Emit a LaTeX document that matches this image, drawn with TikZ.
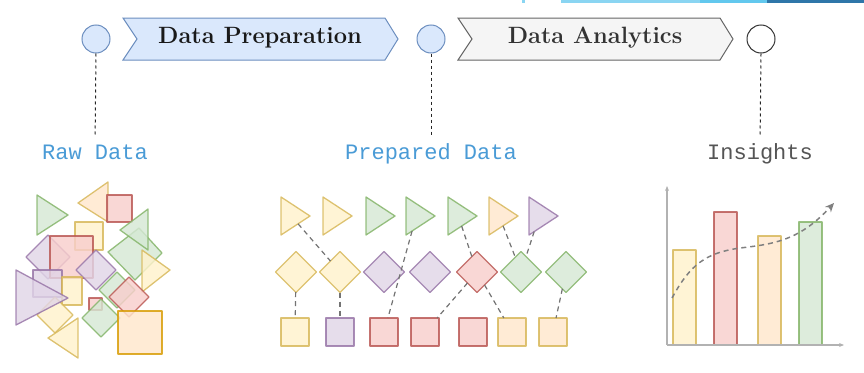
\documentclass[tikz,border=0pt]{standalone}
\usepackage{fontspec}
\newfontfamily\monofont{Liberation Mono}
\usetikzlibrary{shapes.geometric,arrows.meta}
\definecolor{yfill}{HTML}{FFF2CC}\definecolor{ydraw}{HTML}{D6B656}
\definecolor{rfill}{HTML}{F8CECC}\definecolor{rdraw}{HTML}{B85450}
\definecolor{gfill}{HTML}{D5E8D4}\definecolor{gdraw}{HTML}{82B366}
\definecolor{pfill}{HTML}{E1D5E7}\definecolor{pdraw}{HTML}{9673A6}
\definecolor{ofill}{HTML}{FFE6CC}\definecolor{odraw}{HTML}{D79B00}
\definecolor{bfill}{HTML}{DAE8FC}\definecolor{bdraw}{HTML}{6C8EBF}
\definecolor{sfill}{HTML}{F5F5F5}\definecolor{sdraw}{HTML}{666666}
\definecolor{lblue}{HTML}{4A9BD6}\definecolor{lgrey}{HTML}{555555}
\definecolor{bar1}{HTML}{8AD5F2}\definecolor{bar2}{HTML}{62C8EE}\definecolor{bar3}{HTML}{2E76A9}
\begin{document}
\begin{tikzpicture}[x=1pt,y=-1pt,
  ye/.style={fill=yfill,draw=ydraw},
  re/.style={fill=rfill,draw=rdraw},
  gr/.style={fill=gfill,draw=gdraw},
  pu/.style={fill=pfill,draw=pdraw},
  ora/.style={fill=ofill,draw=odraw},
  oy/.style={fill=ofill,draw=ydraw},
  shp/.style={line width=1.3pt,opacity=0.82,line join=round},
  stage/.style={circle,minimum size=28pt,inner sep=0pt,line width=1pt},
  chev/.style={line width=1pt},
  title/.style={font=\fontsize{23.6}{28}\selectfont\bfseries,inner sep=0pt},
  lbl/.style={font=\monofont\fontsize{22}{26}\selectfont,inner sep=0pt,text height=14pt,text depth=4pt},
  vdash/.style={draw=black!85,line width=1pt,dash pattern=on 3pt off 3pt},
  tri/.style={shp,isosceles triangle,isosceles triangle stretches,minimum width=38pt,minimum height=29pt,inner sep=0pt,outer sep=0pt,anchor=apex},
  dia/.style={shp,diamond,minimum width=41pt,minimum height=41pt,inner sep=0pt,outer sep=0pt},
  sq/.style={shp,rectangle,minimum size=28pt,inner sep=0pt,outer sep=0pt},
  link/.style={draw=black!55,line width=1.2pt,dash pattern=on 5pt off 4pt},
  axis/.style={draw=black!30,line width=1.2pt,-{Stealth[length=5pt,width=4pt]}},
  bar/.style={shp}
]
\useasboundingbox (0,0) rectangle (864,372);
% top bar fragment
\fill[bar1] (522,0) rectangle (525,3);
\fill[bar1] (561,0) rectangle (700,3);
\fill[bar2] (700,0) rectangle (767,3);
\fill[bar3] (767,0) rectangle (864,3);

% chevrons
\draw[chev,fill=bfill,draw=bdraw] (123,18) -- (385,18) -- (398,39) -- (385,60) -- (123,60) -- (137,39) -- cycle;
\draw[chev,fill=sfill,draw=sdraw] (458,18) -- (720,18) -- (733,39) -- (720,60) -- (458,60) -- (472,39) -- cycle;
\node[title,text=black!90] (t1) at (260,38) {Data Preparation};
\node[title,text=black!80] (t2) at (595,38) {Data Analytics};

% stage circles
\node[stage,fill=bfill,draw=bdraw] (c1) at (96,39) {};
\node[stage,fill=bfill,draw=bdraw] (c2) at (431,39) {};
\node[stage,fill=white,draw=black!80] (c3) at (761,39) {};

% labels
\node[lbl,text=lblue] (l1) at (95,154) {Raw Data};
\node[lbl,text=lblue] (l2) at (431,154) {Prepared Data};
\node[lbl,text=lgrey] (l3) at (760,154) {Insights};
\draw[vdash,shorten >=8pt] (c1.south) -- (l1.north);
\draw[vdash,shorten >=8pt] (c2.south) -- (l2.north);
\draw[vdash,shorten >=8pt] (c3.south) -- (l3.north);

% raw data cluster
\path[shp,gr] (37,195) -- (37,235) -- (68,215) -- cycle;
\path[shp,oy] (108,182) -- (108,222) -- (78,203) -- cycle;
\path[shp,re] (107,195) rectangle (132,222);
\path[shp,ye] (75,222) rectangle (103,250);
\path[shp,gr] (139,228) -- (162,253) -- (135,280) -- (108,252) -- cycle;
\path[shp,gr] (148,209) -- (148,250) -- (120,230) -- cycle;
\path[shp,pu] (48,235) -- (70,257) -- (48,279) -- (26,257) -- cycle;
\path[shp,re] (50,236) rectangle (93,278);
\path[shp,ye] (142,250) -- (142,292) -- (170,270) -- cycle;
\path[shp,pu] (96,250) -- (116,270) -- (96,290) -- (76,270) -- cycle;
\path[shp,pu] (33,270) rectangle (62,297);
\path[shp,ye] (62,277) rectangle (82,305);
\path[shp,ye] (55,297) -- (73,315) -- (55,333) -- (37,315) -- cycle;
\path[shp,pu] (16,270) -- (16,325) -- (68,298) -- cycle;
\path[shp,gr] (117,272) -- (135,290) -- (117,308) -- (99,290) -- cycle;
\path[shp,re] (129,277) -- (149,297) -- (129,317) -- (109,297) -- cycle;
\path[shp,re] (89,298) rectangle (102,310);
\path[shp,gr] (101,299) -- (120,318) -- (101,337) -- (82,318) -- cycle;
\path[shp,ye] (78,318) -- (78,358) -- (48,338) -- cycle;
\path[shp,ora] (118,311) rectangle (162,354);

% prepared data
\node[tri,ye] (pt1) at (310,216) {};
\node[tri,ye] (pt2) at (352,216) {};
\node[tri,gr] (pt3) at (395,216) {};
\node[tri,gr] (pt4) at (435,216) {};
\node[tri,gr] (pt5) at (477,216) {};
\node[tri,oy] (pt6) at (518,216) {};
\node[tri,pu] (pt7) at (558,216) {};
\node[dia,ye] (pd1) at (296,272) {};
\node[dia,ye] (pd2) at (340,272) {};
\node[dia,pu] (pd3) at (384,272) {};
\node[dia,pu] (pd4) at (430,272) {};
\node[dia,re] (pd5) at (477,272) {};
\node[dia,gr] (pd6) at (521,272) {};
\node[dia,gr] (pd7) at (566,272) {};
\node[sq,ye] (ps1) at (295,332) {};
\node[sq,pu] (ps2) at (340,332) {};
\node[sq,re] (ps3) at (384,332) {};
\node[sq,re] (ps4) at (425,332) {};
\node[sq,re] (ps5) at (473,332) {};
\node[sq,oy] (ps6) at (512,332) {};
\node[sq,oy] (ps7) at (553,332) {};
\draw[link] (pt1) -- (pd2);
\draw[link] (pt4) -- (ps3);
\draw[link] (pt5) -- (pd5);
\draw[link] (pt6) -- (pd6);
\draw[link] (pt7) -- (pd6);
\draw[link] (pd1) -- (ps1);
\draw[link] (pd2) -- (ps2);
\draw[link] (pd5) -- (ps4);
\draw[link] (pd5) -- (ps6);
\draw[link] (pd7) -- (ps7);

% insights chart
\coordinate (org) at (667,345);
\coordinate (ytop) at (667,186);
\coordinate (xend) at (844,345);
\path[bar,ye] (673,250) rectangle (696,345);
\path[bar,re] (714,212) rectangle (737,345);
\path[bar,oy] (758,236) rectangle (781,345);
\path[bar,gr] (799,222) rectangle (822,345);
\draw[axis] (org) -- (ytop);
\draw[axis] (org) -- (xend);
\draw[draw=black!50,line width=1.5pt,dash pattern=on 5pt off 4pt,-{Stealth[length=9pt,width=8pt]}]
  (672,298) .. controls (690,265) and (705,253) .. (740,248)
  .. controls (775,244) and (800,240) .. (834,203);
\end{tikzpicture}
\end{document}
